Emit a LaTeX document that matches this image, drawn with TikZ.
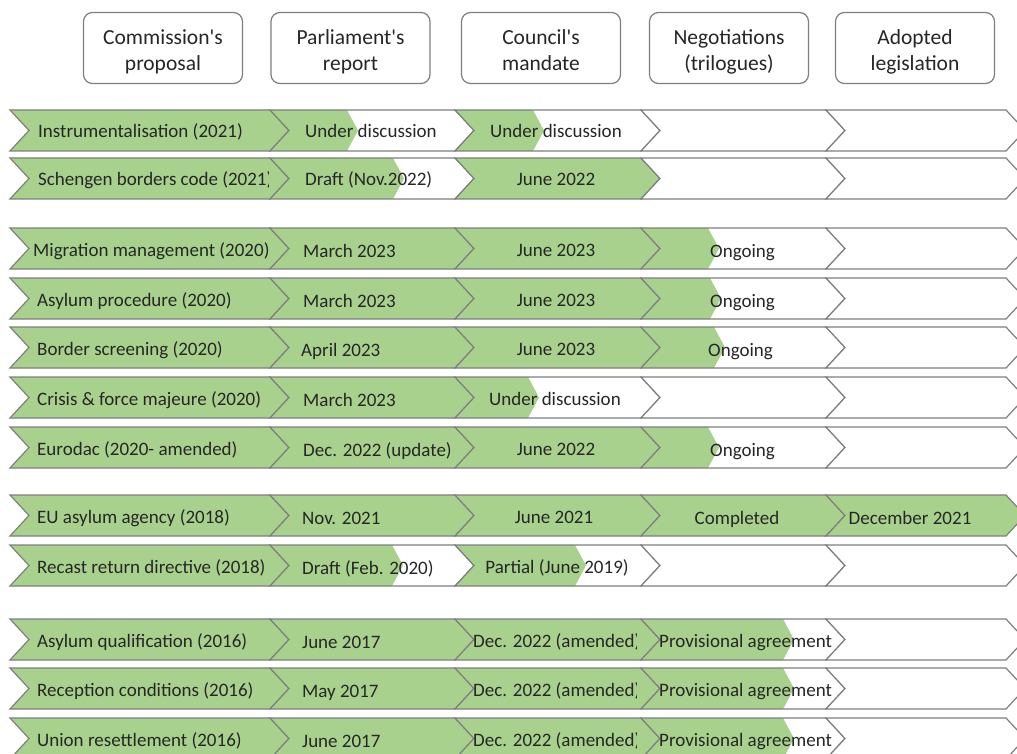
\documentclass[tikz,border=0pt]{standalone}
\usepackage{fontspec}
\setmainfont{Carlito}
\definecolor{grn}{HTML}{A9D18E}
\definecolor{edge}{HTML}{7F7F7F}
\definecolor{txt}{HTML}{262626}
\tikzset{
  hdr/.style={draw=edge, line width=1.2pt, rounded corners=9pt, minimum width=159pt,
    minimum height=71pt, inner sep=0pt},
  hdrtext/.style={align=center, anchor=base, font=\fontsize{21.5}{25.5}\selectfont, text=txt, inner sep=0pt},
  lbl/.style={font=\fontsize{19}{22}\selectfont, text=txt, inner sep=0pt},
  lw/.style={lbl, anchor=base west},
  lc/.style={lbl, anchor=base},
  segline/.style={draw=edge, line width=1.2pt, line join=miter},
}
% #1 = top y, #2..#6 = x of the green edge in each segment (0 none, 2000 full)
\newcommand\chevrow[6]{%
  \pgfmathsetmacro\ya{#1}\pgfmathsetmacro\yb{#1+41}\pgfmathsetmacro\ym{#1+20.5}%
  \foreach \xa/\xb/\g in {10/270/#2, 270/455/#3, 455/641/#4, 641/826/#5, 826/1006/#6}{%
    \begin{scope}
      \clip (\xa,\ya) -- (\xb,\ya) -- (\xb+19,\ym) -- (\xb,\yb) -- (\xa,\yb) -- (\xa+19,\ym) -- cycle;
      \fill[white] (\xa-5,\ya-5) rectangle (\xb+25,\yb+5);
      \fill[grn] (0,\ya) -- (\g,\ya) -- (\g+11,\ym) -- (\g,\yb) -- (0,\yb) -- cycle;
    \end{scope}
    \draw[segline] (\xa,\ya) -- (\xb,\ya) -- (\xb+19,\ym) -- (\xb,\yb) -- (\xa,\yb) -- (\xa+19,\ym) -- cycle;
  }%
}
\begin{document}
\begin{tikzpicture}[x=1pt,y=-1pt]
\useasboundingbox (0,0) rectangle (1017,754);
\fill[white] (0,0) rectangle (1017,754);

% header
\node[hdr] (h1) at (163,48) {};
\node[hdr] (h2) at (350.5,48) {};
\node[hdr] (h3) at (541,48) {};
\node[hdr] (h4) at (729,48) {};
\node[hdr] (h5) at (915,48) {};
\node[hdrtext] (h1t) at (163,70.5) {Commission\textquotesingle s\\proposal};
\node[hdrtext] (h2t) at (350.5,70.5) {Parliament\textquotesingle s\\report};
\node[hdrtext] (h3t) at (541,70.5) {Council\textquotesingle s\\mandate};
\node[hdrtext] (h4t) at (729,70.5) {Negotiations\\(trilogues)};
\node[hdrtext] (h5t) at (915,70.5) {Adopted\\legislation};

% rows
\chevrow{110}{2000}{347}{533}{0}{0}
\chevrow{158}{2000}{393}{2000}{0}{0}
\chevrow{228}{2000}{2000}{2000}{708}{0}
\chevrow{278}{2000}{2000}{2000}{710}{0}
\chevrow{327}{2000}{2000}{2000}{714}{0}
\chevrow{377}{2000}{2000}{528}{0}{0}
\chevrow{427}{2000}{2000}{2000}{708}{0}
\chevrow{495}{2000}{2000}{2000}{2000}{2000}
\chevrow{545}{2000}{392}{575}{0}{0}
\chevrow{619}{2000}{2000}{2000}{783}{0}
\chevrow{668}{2000}{2000}{2000}{783}{0}
\chevrow{718}{2000}{2000}{2000}{783}{0}

% row 1
\node[lw] (r1a) at (38,138) {Instrumentalisation (2021)};
\node[lw] (r1b) at (305,138) {Under discussion};
\node[lc] (r1c) at (556,138) {Under discussion};
% row 2
\begin{scope}
\clip (0,150) rectangle (268,210);
\node[lw] (r2a) at (38,186) {Schengen borders code (2021)};
\end{scope}
\node[lw] (r2b) at (305,186) {Draft (Nov.2022)};
\node[lc] (r2c) at (556,186) {June 2022};
% row 3
\node[lw] (r3a) at (33,256) {Migration management (2020)};
\node[lw] (r3b) at (303,257) {March 2023};
\node[lc] (r3c) at (556,256) {June 2023};
\node[lw] (r3d) at (710,257) {Ongoing};
% row 4
\node[lw] (r4a) at (37,306) {Asylum procedure (2020)};
\node[lw] (r4b) at (303,307) {March 2023};
\node[lc] (r4c) at (556,306) {June 2023};
\node[lw] (r4d) at (710,307) {Ongoing};
% row 5
\node[lw] (r5a) at (37,355) {Border screening (2020)};
\node[lw] (r5b) at (301,356) {April 2023};
\node[lc] (r5c) at (556,355) {June 2023};
\node[lw] (r5d) at (708,356) {Ongoing};
% row 6
\node[lw] (r6a) at (37,405) {Crisis \& force majeure (2020)};
\node[lw] (r6b) at (303,406) {March 2023};
\node[lc] (r6c) at (555,405) {Under discussion};
% row 7
\node[lw] (r7a) at (37,455) {Eurodac (2020- amended)};
\node[lw] (r7b) at (303,456) {Dec. 2022 (update)};
\node[lc] (r7c) at (556,455) {June 2022};
\node[lw] (r7d) at (710,456) {Ongoing};
% row 8
\node[lw] (r8a) at (37,523) {EU asylum agency (2018)};
\node[lw] (r8b) at (302,524) {Nov. 2021};
\node[lc] (r8c) at (554,523) {June 2021};
\node[lc] (r8d) at (737,524) {Completed};
\node[lc] (r8e) at (910,524) {December 2021};
% row 9
\node[lw] (r9a) at (37,573) {Recast return directive (2018)};
\node[lw] (r9b) at (302,574) {Draft (Feb. 2020)};
\node[lc] (r9c) at (557,573) {Partial (June 2019)};
% row 10
\node[lw] (r10a) at (37,647) {Asylum qualification (2016)};
\node[lw] (r10b) at (302,648) {June 2017};
\begin{scope}
\clip (455,610) rectangle (636.5,670);
\node[lw] (r10c) at (473,647) {Dec. 2022 (amended)};
\end{scope}
\node[lw] (r10d) at (659,647) {Provisional agreement};
% row 11
\node[lw] (r11a) at (37,696) {Reception conditions (2016)};
\node[lw] (r11b) at (302,697) {May 2017};
\begin{scope}
\clip (455,660) rectangle (636.5,720);
\node[lw] (r11c) at (473,696) {Dec. 2022 (amended)};
\end{scope}
\node[lw] (r11d) at (659,696) {Provisional agreement};
% row 12
\node[lw] (r12a) at (37,746) {Union resettlement (2016)};
\node[lw] (r12b) at (302,747) {June 2017};
\begin{scope}
\clip (455,710) rectangle (636.5,770);
\node[lw] (r12c) at (473,746) {Dec. 2022 (amended)};
\end{scope}
\node[lw] (r12d) at (659,746) {Provisional agreement};
\end{tikzpicture}
\end{document}
